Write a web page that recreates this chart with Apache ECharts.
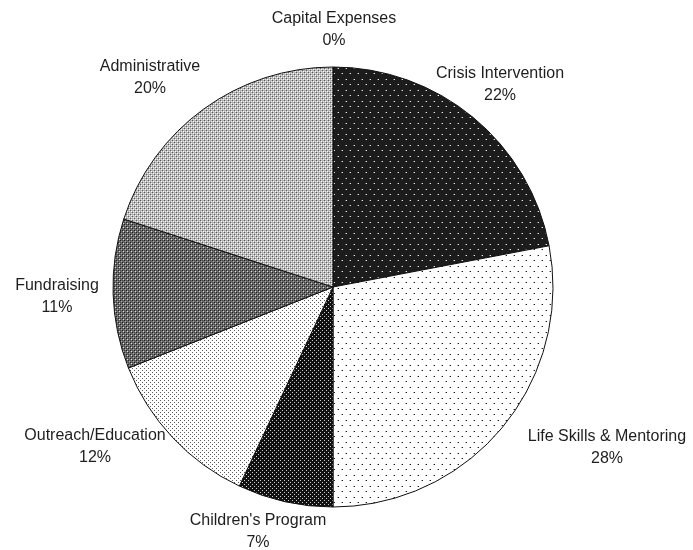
<!DOCTYPE html>
<html>
<head>
<meta charset="utf-8">
<script src="https://cdn.jsdelivr.net/npm/echarts@6/dist/echarts.min.js"></script>
<style>
  html, body { margin: 0; padding: 0; background: #fff; }
  #chart { width: 693px; height: 550px; }
</style>
</head>
<body>
<div id="chart"></div>
<script>
// 数据
var categories = ['Capital Expenses', 'Crisis Intervention', 'Life Skills & Mentoring',
  "Children's Program", 'Outreach/Education', 'Fundraising', 'Administrative'];
var percents = [0, 22, 28, 7, 12, 11, 20];

// 网点/交叉线填充
function makePattern(w, h, bg, dots) {
  var c = document.createElement('canvas');
  c.width = w; c.height = h;
  var ctx = c.getContext('2d');
  ctx.fillStyle = bg;
  ctx.fillRect(0, 0, w, h);
  dots.forEach(function (d) {
    ctx.fillStyle = d[3];
    ctx.fillRect(d[0], d[1], d[2], d[2]);
  });
  return { image: c, repeat: 'repeat' };
}

var patterns = [
  makePattern(8, 8, '#1c1c1c', []),
  // crisis: black with sparse white dots
  makePattern(8, 11, '#1c1c1c', [[2, 2, 1, '#e8e8e8'], [6, 7, 1, '#e8e8e8'],
    [1, 2, 1, '#666'], [5, 7, 1, '#666']]),
  // life skills: white with sparse dark dots
  makePattern(8, 11, '#ffffff', [[2, 2, 1, '#1a1a1a'], [6, 7, 1, '#1a1a1a'],
    [1, 2, 1, '#aaa'], [5, 7, 1, '#aaa']]),
  // children: black with dense white dots
  makePattern(4, 4, '#111111', [[0, 0, 1, '#d0d0d0'], [2, 2, 1, '#d0d0d0']]),
  // outreach: white with dense grey dots
  makePattern(4, 4, '#ffffff', [[0, 0, 1, '#5a5a5a'], [2, 2, 1, '#5a5a5a']]),
  // fundraising: dark crosshatch
  makePattern(4, 4, '#6c6c6c', [[0, 0, 1, '#1e1e1e'], [2, 2, 1, '#1e1e1e'],
    [1, 1, 1, '#a8a8a8'], [3, 3, 1, '#dedede'], [2, 0, 1, '#444'], [0, 2, 1, '#444']]),
  // administrative: light crosshatch
  makePattern(4, 4, '#b4b4b4', [[0, 0, 1, '#5e5e5e'], [2, 2, 1, '#5e5e5e'],
    [1, 1, 1, '#ffffff'], [3, 3, 1, '#ffffff'], [3, 1, 1, '#e6e6e6'], [1, 3, 1, '#e6e6e6']])
];

// 标签位置
var labelPos = [[334, 30], [500, 85], [607, 448], [258, 532], [95, 447], [57, 297], [150, 78]];

var myChart = echarts.init(document.getElementById('chart'));
var option = {
  backgroundColor: '#ffffff',
  animation: false,
  series: [{
    type: 'pie',
    center: [333, 287],
    radius: 220,
    startAngle: 90,
    clockwise: true,
    avoidLabelOverlap: false,
    itemStyle: {
      borderColor: '#111',
      borderWidth: 1
    },
    label: {
      show: true,
      position: 'outside',
      color: '#1e1e1e',
      fontFamily: 'Liberation Sans, Arial, sans-serif',
      fontSize: 16,
      lineHeight: 22,
      align: 'center',
      formatter: function (p) {
        return p.name + '\n' + p.value + '%';
      }
    },
    labelLine: { show: false },
    labelLayout: function (params) {
      var p = labelPos[params.dataIndex];
      return { x: p[0], y: p[1], align: 'center', verticalAlign: 'middle' };
    },
    emphasis: { disabled: true },
    data: categories.map(function (name, i) {
      return { name: name, value: percents[i], itemStyle: { color: patterns[i] } };
    })
  }]
};
myChart.setOption(option);
</script>
</body>
</html>
